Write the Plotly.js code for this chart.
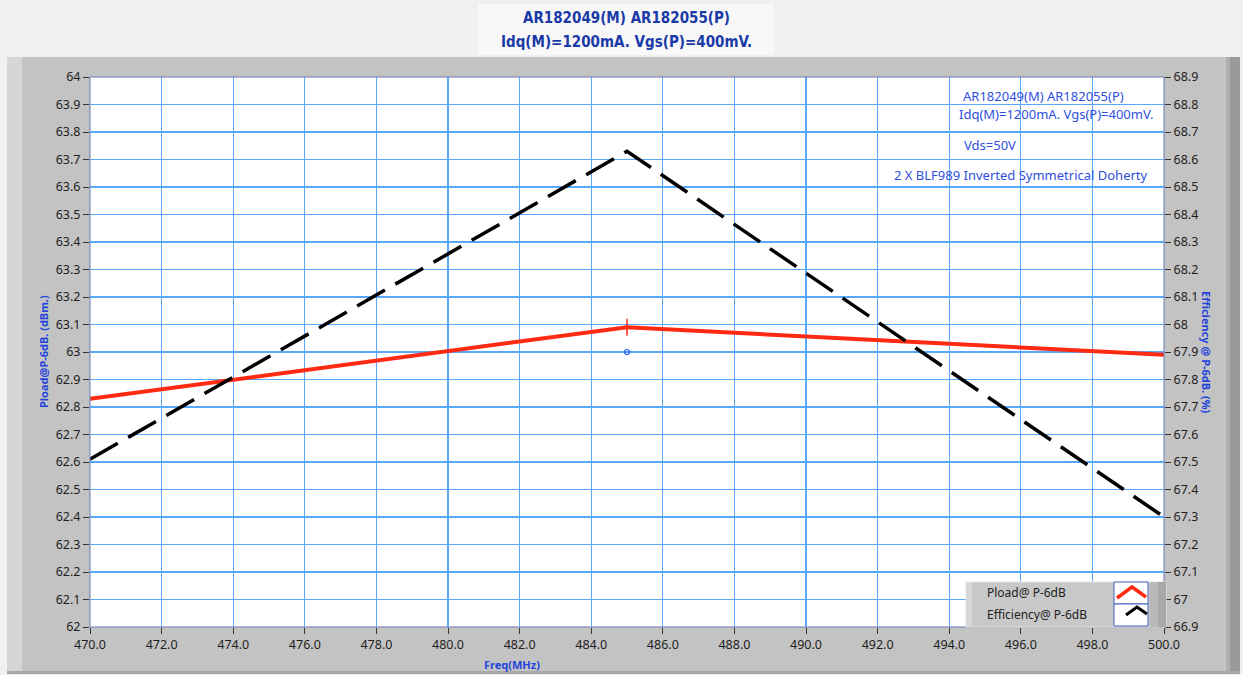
<!DOCTYPE html>
<html><head><meta charset="utf-8">
<script src="https://cdn.plot.ly/plotly-3.0.1.min.js"></script>
<style>html,body{margin:0;padding:0;background:#f0f0f0;}#chart{width:1243px;height:675px;}</style>
</head><body><div id="chart"></div>
<script>
// ---- data ----
const freq = [470, 485, 500];
const pload = [62.83, 63.09, 62.99];
const efficiency = [67.51, 68.63, 67.30];
const cursorFreq = [485];
const cursorPload = [63.09];
const markerFreq = [485];
const markerVal = [63.0];
const xTicks = [470,472,474,476,478,480,482,484,486,488,490,492,494,496,498,500];
const titleLines = ["AR182049(M) AR182055(P)", "Idq(M)=1200mA. Vgs(P)=400mV."];
const noteLines = ["AR182049(M) AR182055(P)", "Idq(M)=1200mA. Vgs(P)=400mV.", "Vds=50V", "2 X BLF989 Inverted Symmetrical Doherty"];
const legendNames = ["Pload@ P-6dB", "Efficiency@ P-6dB"];

// ---- layout geometry helpers (pixel -> paper) ----
const L = 90, R = 1164, T = 77, B = 627;
const px = x => (x - L) / (R - L);
const py = y => (B - y) / (B - T);

const blue = '#2f4fe0';
const gridCol = '#58a8ff';

const traces = [
  {x: freq, y: pload, type: 'scatter', mode: 'lines', name: legendNames[0],
   line: {color: '#ff2a12', width: 4}, yaxis: 'y', showlegend: false},
  {x: freq, y: efficiency, type: 'scatter', mode: 'lines', name: legendNames[1],
   line: {color: '#000000', width: 3.5, dash: '32px,12px'}, yaxis: 'y2', showlegend: false},
  {x: cursorFreq, y: cursorPload, type: 'scatter', mode: 'markers', showlegend: false,
   marker: {symbol: 'line-ns', size: 12, color: '#ff2a12', line: {color: '#ff2a12', width: 1.5}}, hoverinfo: 'skip'},
  {x: markerFreq, y: markerVal, type: 'scatter', mode: 'markers', showlegend: false,
   marker: {symbol: 'circle-open', size: 5, color: '#2255ee', line: {color: '#2255ee', width: 1.2}}, hoverinfo: 'skip'}
];

const shapes = [
  // gray panel
  {type:'rect', xref:'paper', yref:'paper', x0:px(7), x1:px(1240), y0:py(674), y1:py(57), fillcolor:'#c3c3c3', line:{width:0}, layer:'below'},
  {type:'rect', xref:'paper', yref:'paper', x0:px(7), x1:px(22), y0:py(674), y1:py(57), fillcolor:'#d6d6d6', line:{width:0}, layer:'below'},
  {type:'rect', xref:'paper', yref:'paper', x0:px(1230), x1:px(1240), y0:py(674), y1:py(57), fillcolor:'#9a9a9a', line:{width:0}, layer:'below'},
  {type:'rect', xref:'paper', yref:'paper', x0:px(1226), x1:px(1230), y0:py(674), y1:py(57), fillcolor:'#b0b0b0', line:{width:0}, layer:'below'},
  {type:'rect', xref:'paper', yref:'paper', x0:px(7), x1:px(1240), y0:py(674), y1:py(671), fillcolor:'#a8a8a8', line:{width:0}, layer:'below'},
  // title box
  {type:'rect', xref:'paper', yref:'paper', x0:px(478), x1:px(774), y0:py(55), y1:py(4), fillcolor:'#f8f8f8', line:{width:0}, layer:'below'},
  // white plot area
  {type:'rect', xref:'paper', yref:'paper', x0:0, x1:1, y0:0, y1:1, fillcolor:'#ffffff', line:{width:0}, layer:'below'},
  // plot border
  {type:'rect', xref:'paper', yref:'paper', x0:0, x1:1, y0:0, y1:1, line:{color:'#6a7ab8', width:1}, layer:'above'},
  // legend box
  {type:'rect', xref:'paper', yref:'paper', x0:px(966), x1:px(1166), y0:py(627), y1:py(582), fillcolor:'#c8c8c8', line:{color:'#e6e6e6', width:1}, layer:'above'},
  {type:'rect', xref:'paper', yref:'paper', x0:px(1150), x1:px(1158), y0:py(627), y1:py(582), fillcolor:'#b8b8b8', line:{width:0}, layer:'above'},
  {type:'rect', xref:'paper', yref:'paper', x0:px(1158), x1:px(1166), y0:py(627), y1:py(582), fillcolor:'#a8a8a8', line:{width:0}, layer:'above'},
  {type:'rect', xref:'paper', yref:'paper', x0:px(966), x1:px(972), y0:py(627), y1:py(582), fillcolor:'#d8d8d8', line:{width:0}, layer:'above'},
  {type:'rect', xref:'paper', yref:'paper', x0:px(1114), x1:px(1148), y0:py(604), y1:py(582), fillcolor:'#ffffff', line:{color:'#4060c0', width:1}, layer:'above'},
  {type:'rect', xref:'paper', yref:'paper', x0:px(1114), x1:px(1148), y0:py(626), y1:py(604), fillcolor:'#ffffff', line:{color:'#4060c0', width:1}, layer:'above'},
  // legend icons
  {type:'path', xref:'paper', yref:'paper', layer:'above',
   path:`M ${px(1117)} ${py(598)} L ${px(1132)} ${py(587)} L ${px(1146)} ${py(597)}`, line:{color:'#ff2a12', width:3.5}},
  {type:'path', xref:'paper', yref:'paper', layer:'above',
   path:`M ${px(1126)} ${py(615)} L ${px(1137)} ${py(607)} L ${px(1147)} ${py(614)}`, line:{color:'#000000', width:3}}
];

function ann(text, x, y, font, extra) {
  return Object.assign({text: text, xref:'paper', yref:'paper', x:px(x), y:py(y), showarrow:false,
    xanchor:'center', yanchor:'middle', font: font}, extra || {});
}
const titleFont = {family:'DejaVu Sans Condensed, Liberation Sans', size:15, color:'#1a3aa8'};
const noteFont = {family:'Noto Sans', size:13, color:blue};
const axFont = {family:'Noto Sans', size:11, color:'#2244dd'};
const legFont = {family:'Noto Sans', size:12, color:'#222'};

const annotations = [
  ann('<b>' + titleLines[0] + '</b>', 626, 18, titleFont),
  ann('<b>' + titleLines[1] + '</b>', 626, 42, titleFont),
  ann(noteLines[0], 1043, 96, noteFont),
  ann(noteLines[1], 1056, 114, noteFont),
  ann(noteLines[2], 990, 145, noteFont),
  ann(noteLines[3], 1021, 175, noteFont),
  ann('<b>Pload@P-6dB. (dBm.)</b>', 43, 352, axFont, {textangle:-90}),
  ann('<b>Efficiency @ P-6dB. (%)</b>', 1207, 352, axFont, {textangle:90}),
  ann('<b>Freq(MHz)</b>', 512, 664, axFont),
  ann(legendNames[0], 985, 592, legFont, {xanchor:'left'}),
  ann(legendNames[1], 985, 614, legFont, {xanchor:'left'})
];

const tickFont = {family:'Noto Sans', size:12.5, color:'#1e1e1e'};

const layout = {
  width: 1243, height: 675,
  margin: {l: L, r: 1243 - R, t: T, b: 675 - B, pad: 0},
  paper_bgcolor: '#f0f0f0',
  plot_bgcolor: 'rgba(0,0,0,0)',
  showlegend: false,
  xaxis: {range:[470,500], tickvals: xTicks, ticktext: xTicks.map(v => v.toFixed(1)),
    showgrid:true, gridcolor:gridCol, gridwidth:1.2, zeroline:false,
    ticks:'outside', ticklen:6, tickcolor:'#333', tickfont:tickFont, showline:false},
  yaxis: {range:[62,64], dtick:0.1, tick0:62, showgrid:true, gridcolor:gridCol, gridwidth:1.2, zeroline:false,
    ticks:'outside', ticklen:6, tickcolor:'#333', tickfont:tickFont, showline:false},
  yaxis2: {range:[66.9,68.9], dtick:0.1, tick0:66.9, overlaying:'y', side:'right', showgrid:false, zeroline:false,
    ticks:'outside', ticklen:6, tickcolor:'#333', tickfont:tickFont, showline:false},
  shapes: shapes,
  annotations: annotations
};

Plotly.newPlot('chart', traces, layout, {staticPlot:true, displayModeBar:false});
</script></body></html>
